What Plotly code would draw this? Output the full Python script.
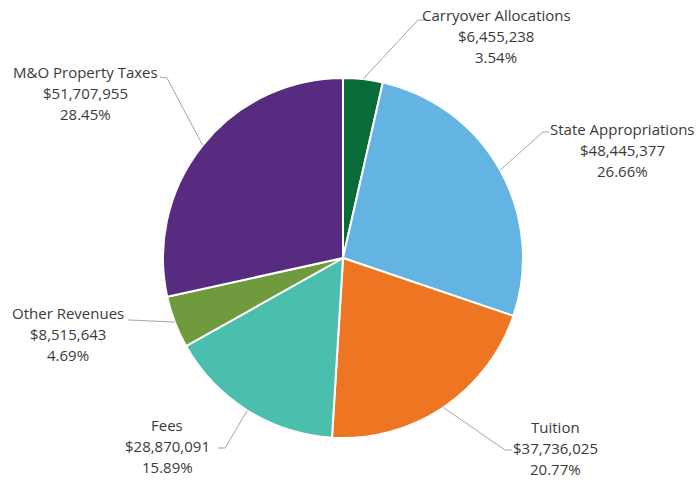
import math
import plotly.graph_objects as go

categories = ["Carryover Allocations", "State Appropriations", "Tuition", "Fees",
              "Other Revenues", "M&O Property Taxes"]
values = [6455238, 48445377, 37736025, 28870091, 8515643, 51707955]
pct_labels = ["3.54%", "26.66%", "20.77%", "15.89%", "4.69%", "28.45%"]
colors = ["#076b3a", "#63b4e3", "#ee7622", "#4bbfad", "#6f9a3e", "#572c80"]

W, H = 696, 481
CX, CY, R = 343, 258, 180

# label placement (pixels): text center x, middle line y, elbow point, line end
label_pos = [
    (496, 36, (418, 20), (425, 20)),
    (622, 150, (543, 132), (549, 132)),
    (555, 448, (505, 450), (512, 450)),
    (167, 446, (225, 448), (218, 448)),
    (68, 334, (130, 320), (128, 320)),
    (85, 93, (167, 78), (160, 77)),
]

def px(x):
    return x / W

def py(y):
    return 1 - y / H

fig = go.Figure(go.Pie(
    labels=categories, values=values, sort=False, direction="clockwise",
    rotation=0, marker=dict(colors=colors, line=dict(color="white", width=2)),
    textinfo="none", hoverinfo="label+value+percent", showlegend=False,
    domain=dict(x=[px(CX - R), px(CX + R)], y=[py(CY + R), py(CY - R)]),
))

total = sum(values)
cum = 0
shapes = []
annotations = []
for cat, val, pct, lp in zip(categories, values, pct_labels, label_pos):
    mid = (cum + val / 2) / total * 2 * math.pi
    cum += val
    ex = CX + R * math.sin(mid)
    ey = CY - R * math.cos(mid)
    tx, ty, (bx, by), (lx, ly) = lp
    shapes.append(dict(
        type="path", xref="paper", yref="paper",
        path=f"M {px(ex)} {py(ey)} L {px(bx)} {py(by)} L {px(lx)} {py(ly)}",
        line=dict(color="#a6a6a6", width=1),
    ))
    for i, line in enumerate([cat, f"${val:,}", pct]):
        annotations.append(dict(
            x=px(tx), y=py(ty + (i - 1) * 21), xref="paper", yref="paper",
            text=line, showarrow=False, xanchor="center", yanchor="middle",
            font=dict(family="Open Sans", size=15, color="#3a3a3a"),
        ))

fig.update_layout(
    width=W, height=H, margin=dict(l=0, r=0, t=0, b=0),
    paper_bgcolor="white", plot_bgcolor="white",
    shapes=shapes, annotations=annotations,
)

fig.write_html("out.html", config={"displayModeBar": False},
               post_script="document.body.style.margin='0';document.body.style.overflow='hidden';")
